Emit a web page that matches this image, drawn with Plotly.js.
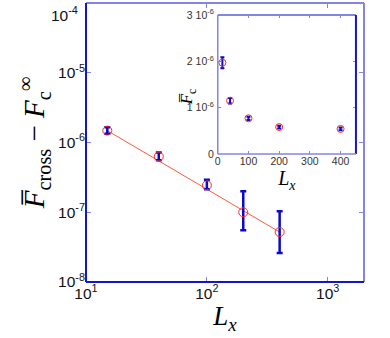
<!DOCTYPE html>
<html>
<head>
<meta charset="utf-8">
<script src="https://cdn.plot.ly/plotly-3.0.1.min.js"></script>
<style>html,body{margin:0;padding:0;background:#fff;}#chart{width:390px;height:338px;}</style>
</head>
<body>
<div id="chart"></div>
<script>
// Main panel data: Fcross - Fc_inf vs Lx (log-log)
const Lx = [15, 40, 100, 200, 400];
const dF = [1.48e-6, 6.3e-7, 2.43e-7, 1.0e-7, 5.2e-8];
const dFerrPlus = [1.7e-7, 9e-8, 5e-8, 1.0e-7, 5.1e-8];
const dFerrMinus = [1.5e-7, 7.5e-8, 3e-8, 4.5e-8, 2.6e-8];
// Power-law fit line endpoints
const fitX = [15, 400];
const fitY = [1.48e-6, 5.2e-8];
// Inset data: Fc vs Lx (linear)
const insetLx = [15, 40, 100, 200, 400];
const insetFc = [1.97e-6, 1.15e-6, 0.77e-6, 0.58e-6, 0.54e-6];
const insetErr = [0.12e-6, 0.06e-6, 0.035e-6, 0.03e-6, 0.03e-6];
// Tick labels
const mainXTickVals = [10, 100, 1000];
const mainXTickText = ['10<sup>1</sup>', '10<sup>2</sup>', '10<sup>3</sup>'];
const mainYTickVals = [1e-8, 1e-7, 1e-6, 1e-5, 1e-4];
const mainYTickText = ['10<sup>-8</sup>', '10<sup>-7</sup>', '10<sup>-6</sup>', '10<sup>-5</sup>', '10<sup>-4</sup>'];
const insetYTickVals = [0, 1e-6, 2e-6, 3e-6];
const insetYTickText = ['0', '1 10<sup>-6</sup>', '2 10<sup>-6</sup>', '3 10<sup>-6</sup>'];
const insetXTickVals = [0, 100, 200, 300, 400];

const dark = '#1414cc';
const light = '#8484e6';
const red = '#ff2a2a';

const traces = [
  {x: fitX, y: fitY, mode: 'lines', line: {color: '#ff5a3c', width: 1}, xaxis: 'x', yaxis: 'y', hoverinfo: 'skip', showlegend: false},
  {x: Lx, y: dF, mode: 'markers', xaxis: 'x', yaxis: 'y', showlegend: false,
   marker: {symbol: 'circle-open', size: 9, color: red, line: {width: 1, color: red}},
   error_y: {type: 'data', symmetric: false, array: dFerrPlus, arrayminus: dFerrMinus, color: '#0a0acc', thickness: 2.5, width: 3}},
  {x: insetLx, y: insetFc, mode: 'markers', xaxis: 'x2', yaxis: 'y2', showlegend: false,
   marker: {symbol: 'circle-open', size: 7, color: red, line: {width: 1, color: red}},
   error_y: {type: 'data', array: insetErr, color: '#0a0acc', thickness: 2, width: 2}}
];

const ix0 = 0.474, ix1 = 0.971, iy0 = 0.459, iy1 = 0.957;

// top tick label is drawn just below the top edge (as in the reference)
const yTickTextShown = mainYTickText.slice(0, -1).concat(['']);
const topLabel = mainYTickText[mainYTickText.length - 1];

const layout = {
  width: 390, height: 338,
  margin: {l: 86, r: 26, t: 3, b: 56},
  paper_bgcolor: '#fff', plot_bgcolor: '#fff',
  font: {family: 'Liberation Sans, Arial, sans-serif', color: '#111'},
  xaxis: {
    type: 'log', range: [0.9999, 3.3], tickvals: mainXTickVals, ticktext: mainXTickText,
    showgrid: false, zeroline: false, showline: false,
    ticks: 'inside', ticklen: 5, tickcolor: light, tickwidth: 1, mirror: 'ticks',
    tickfont: {size: 15.5, color: '#111'},
    title: {text: '<i>L</i><sub><i>x</i></sub>', font: {family: 'Liberation Serif, serif', size: 27, color: '#000'}, standoff: 2}
  },
  yaxis: {
    type: 'log', range: [-8.0001, -3.9999], tickvals: mainYTickVals, ticktext: yTickTextShown,
    showgrid: false, zeroline: false, showline: false,
    ticks: 'inside', ticklen: 5, tickcolor: light, tickwidth: 1, mirror: 'ticks',
    tickfont: {size: 15.5, color: '#111'},
    title: {text: '<i>F\u0305</i><sub>cross</sub> \u2212 <i>F</i><sub>c</sub><sup>\u221e</sup>', font: {family: 'Liberation Serif, serif', size: 29, color: '#000'}, standoff: 4}
  },
  xaxis2: {
    domain: [ix0, ix1], anchor: 'y2', range: [0, 450], tickvals: insetXTickVals,
    showgrid: false, zeroline: false, showline: false,
    ticks: 'inside', ticklen: 3, tickcolor: light, mirror: 'ticks',
    tickfont: {size: 10.5, color: '#333'},
    title: {text: '<i>L</i><sub><i>x</i></sub>', font: {family: 'Liberation Serif, serif', size: 20, color: '#000'}, standoff: 4}
  },
  yaxis2: {
    domain: [iy0, iy1], anchor: 'x2', range: [0, 3e-6],
    tickvals: insetYTickVals, ticktext: insetYTickText,
    showgrid: false, zeroline: false, showline: false,
    ticks: 'inside', ticklen: 3, tickcolor: light, mirror: 'ticks',
    ticklabelstandoff: 3,
    tickfont: {size: 10.5, color: '#333'}
  },
  shapes: [
    // main frame
    {type: 'line', xref: 'paper', yref: 'paper', x0: 0, x1: 1, y0: 1, y1: 1, line: {color: light, width: 2}},
    {type: 'line', xref: 'paper', yref: 'paper', x0: 1, x1: 1, y0: 0, y1: 1, line: {color: light, width: 2}},
    {type: 'line', xref: 'paper', yref: 'paper', x0: 0, x1: 0, y0: 0, y1: 1, line: {color: dark, width: 2}},
    {type: 'line', xref: 'paper', yref: 'paper', x0: 0, x1: 1, y0: 0, y1: 0, line: {color: dark, width: 2}},
    // inset frame
    {type: 'line', xref: 'paper', yref: 'paper', x0: ix0, x1: ix1, y0: iy1, y1: iy1, line: {color: light, width: 2}},
    {type: 'line', xref: 'paper', yref: 'paper', x0: ix1, x1: ix1, y0: iy0, y1: iy1, line: {color: dark, width: 2}},
    {type: 'line', xref: 'paper', yref: 'paper', x0: ix0, x1: ix0, y0: iy0, y1: iy1, line: {color: light, width: 1.5}},
    {type: 'line', xref: 'paper', yref: 'paper', x0: ix0, x1: ix1, y0: iy0, y1: iy0, line: {color: light, width: 1.5}}
  ],
  annotations: [
    {xref: 'paper', yref: 'paper', x: 0.37, y: 0.665, text: '<i>F\u0305</i><sub>c</sub>', showarrow: false, textangle: -90,
     font: {family: 'Liberation Serif, serif', size: 17, color: '#000'}},
    {xref: 'paper', yref: 'paper', x: -0.02, y: 1.005, xanchor: 'right', yanchor: 'top', text: topLabel, showarrow: false,
     font: {family: 'Liberation Sans, Arial, sans-serif', size: 15.5, color: '#111'}}
  ]
};

Plotly.newPlot('chart', traces, layout, {staticPlot: true, displayModeBar: false});
</script>
</body>
</html>
